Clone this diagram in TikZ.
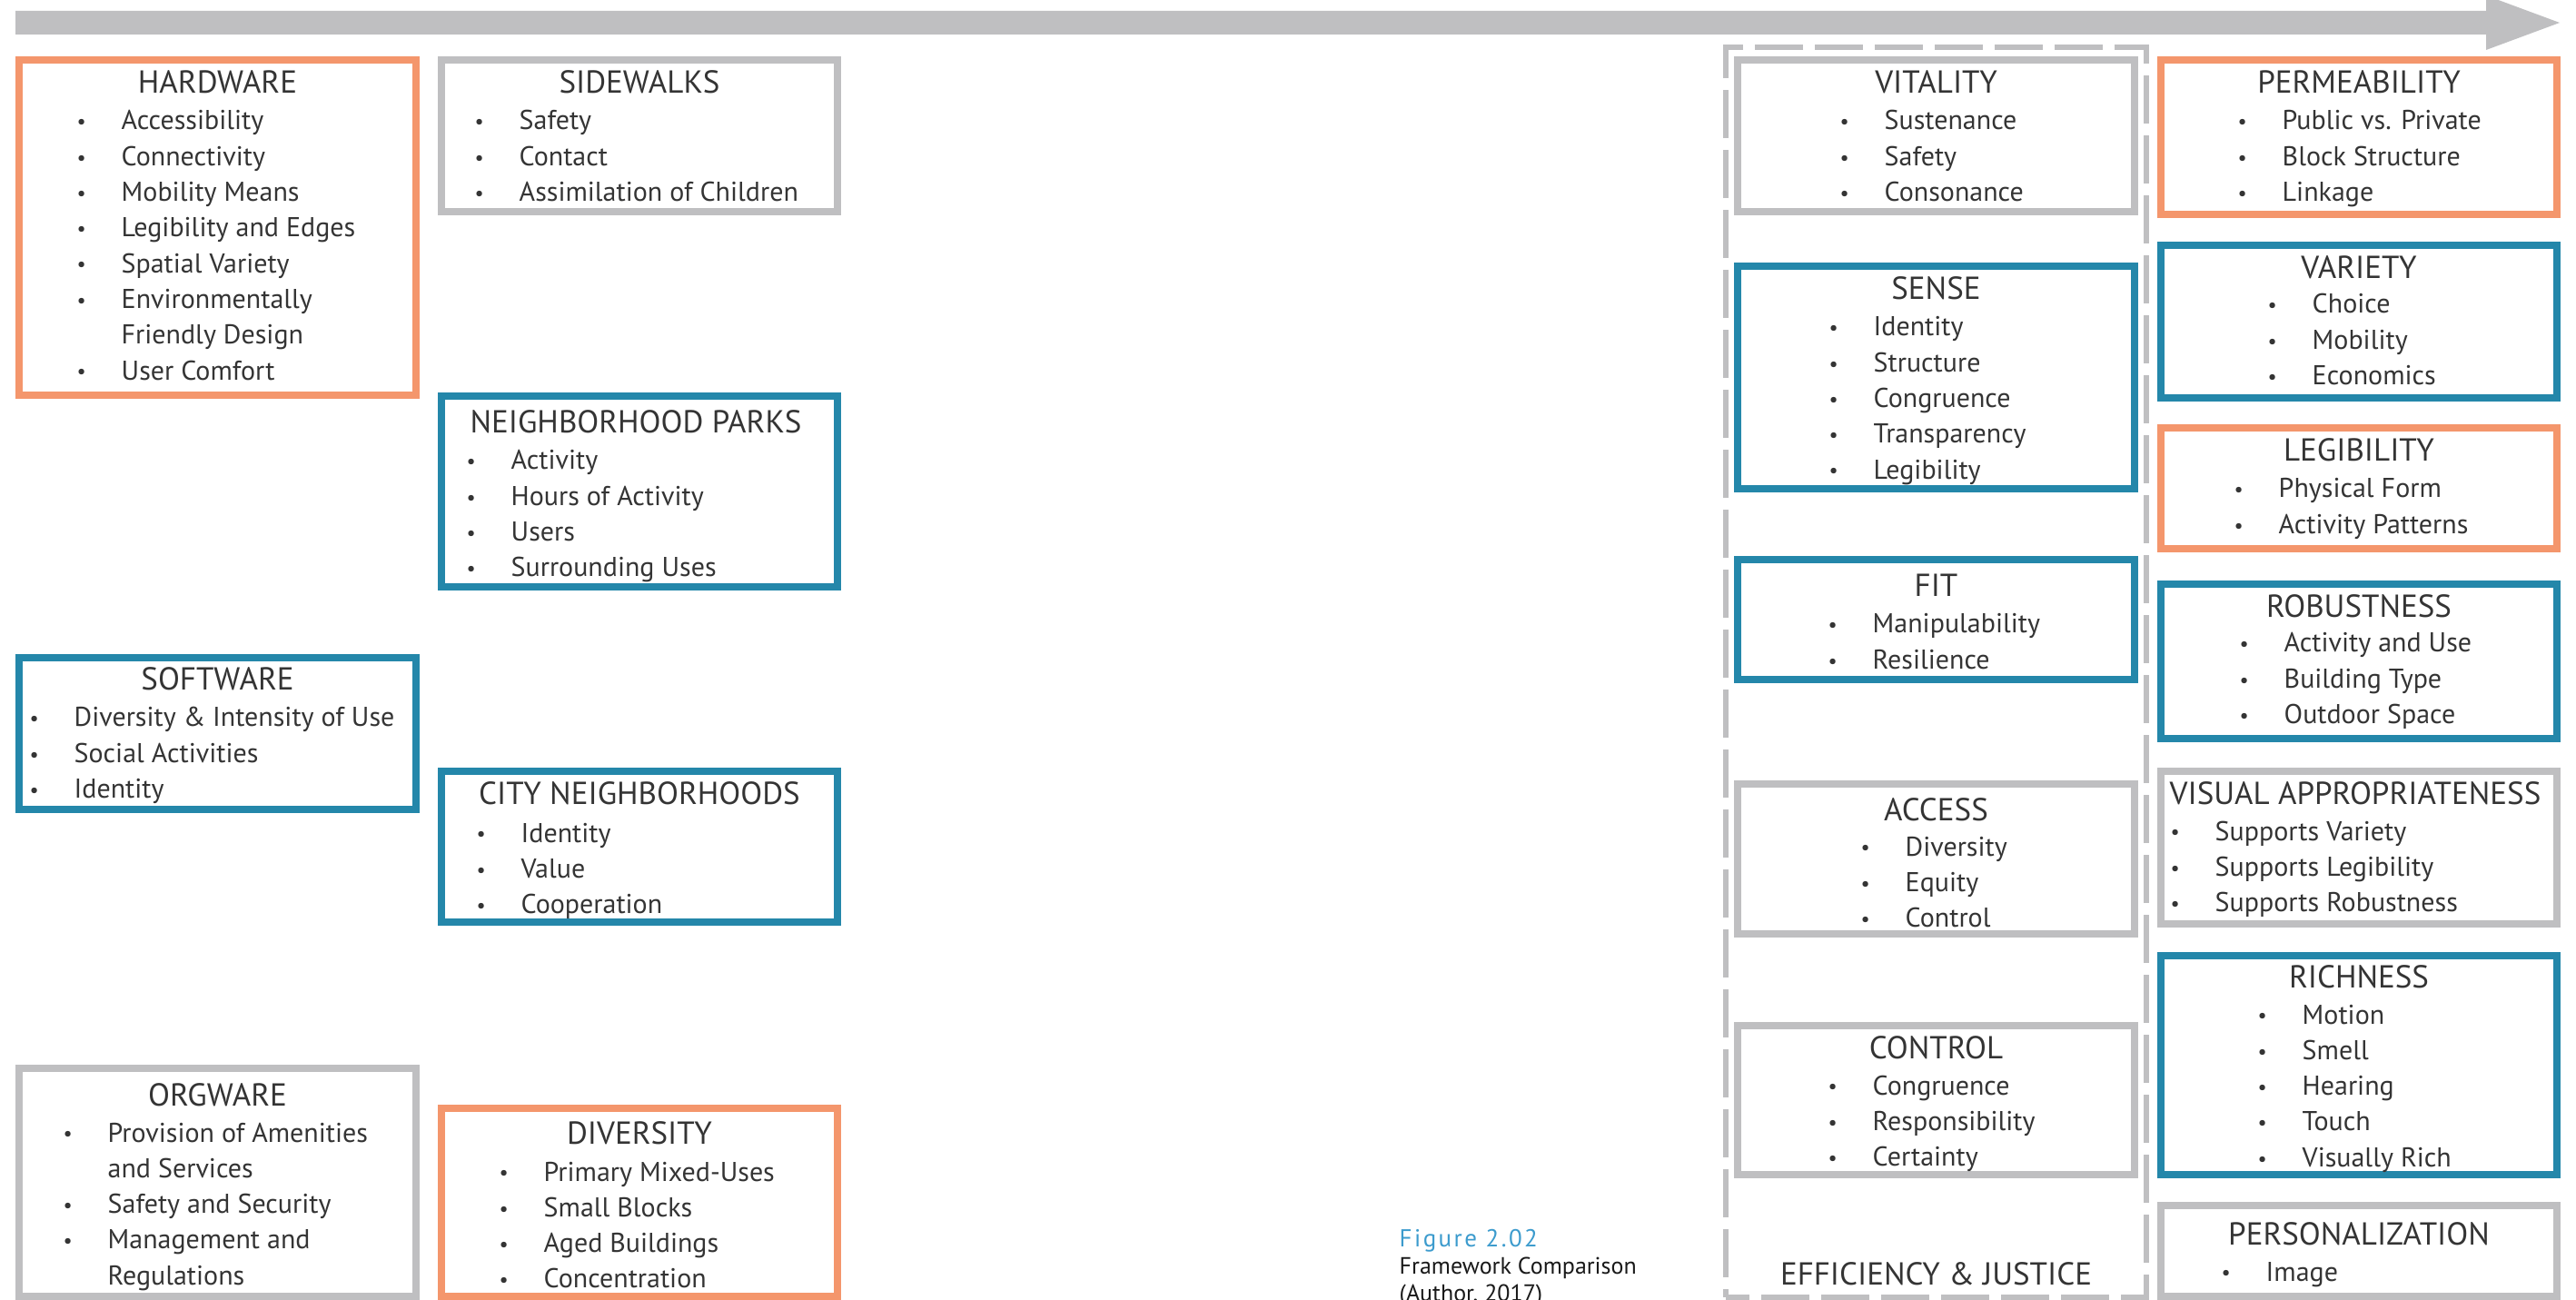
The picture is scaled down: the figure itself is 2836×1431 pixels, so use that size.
\documentclass[tikz,border=0pt]{standalone}
\usepackage{fontspec}
\setmainfont{PT Sans}
\usetikzlibrary{fit}

\newlength{\px}\setlength{\px}{0.01cm}
\definecolor{fworange}{RGB}{244,150,108}
\definecolor{fwblue}{RGB}{36,135,170}
\definecolor{fwgray}{RGB}{191,191,193}
\definecolor{fwtext}{RGB}{52,52,52}
\definecolor{figblue}{RGB}{60,155,205}
\definecolor{captext}{RGB}{25,25,25}

% list helpers
\newcommand{\itm}[1]{\hbox{\llap{\raisebox{0.04em}{\scalebox{0.75}{\textbullet}}\hspace{39\px}}#1}}
\newcommand{\cnt}[1]{\hbox{#1}}
\newcommand{\items}[1]{\vtop{#1}}

\begin{document}
\begin{tikzpicture}[x=0.01cm,y=-0.01cm]
	\tikzstyle{fwbox}=[draw,line width=8\px,inner sep=0pt]
	\tikzstyle{ttl}=[anchor=base,inner sep=0pt,text=fwtext,font=\fontsize{35\px}{40\px}\selectfont]
	\tikzstyle{lst}=[anchor=base west,inner sep=0pt,text=fwtext,font=\fontsize{30\px}{39.3\px}\selectfont]
	\useasboundingbox (0,0) rectangle (2836,1431);

	% timeline arrow
	\fill[fwgray] (17,12) -- (2737,12) -- (2737,-5) -- (2818,25) -- (2737,55) -- (2737,38) -- (17,38) -- cycle;

	% first framework
	\node[fwbox,draw=fworange,fit={(21,66)(458,435)}] (hardware) {};
	\node[ttl] (hardware-t) at (239.5,103) {HARDWARE};
	\node[lst] (hardware-l) at (133,143) {\items{\itm{Accessibility}\itm{Connectivity}\itm{Mobility Means}\itm{Legibility and Edges}\itm{Spatial Variety}\itm{Environmentally}\cnt{Friendly Design}\itm{User Comfort}}};

	\node[fwbox,draw=fwblue,fit={(21,724)(458,891)}] (software) {};
	\node[ttl] (software-t) at (239.5,760) {SOFTWARE};
	\node[lst] (software-l) at (81,800) {\items{\itm{Diversity \& Intensity of Use}\itm{Social Activities}\itm{Identity}}};

	\node[fwbox,draw=fwgray,fit={(21,1176)(458,1427)}] (orgware) {};
	\node[ttl] (orgware-t) at (239.5,1217) {ORGWARE};
	\node[lst] (orgware-l) at (118,1257) {\items{\itm{Provision of Amenities}\cnt{and Services}\itm{Safety and Security}\itm{Management and}\cnt{Regulations}}};

	% second framework
	\node[fwbox,draw=fwgray,fit={(486,66)(922,233)}] (sidewalks) {};
	\node[ttl] (sidewalks-t) at (704,103) {SIDEWALKS};
	\node[lst] (sidewalks-l) at (571,143) {\items{\itm{Safety}\itm{Contact}\itm{Assimilation of Children}}};

	\node[fwbox,draw=fwblue,fit={(486,436)(922,646)}] (parks) {};
	\node[ttl] (parks-t) at (700,477) {NEIGHBORHOOD PARKS};
	\node[lst] (parks-l) at (562,517) {\items{\itm{Activity}\itm{Hours of Activity}\itm{Users}\itm{Surrounding Uses}}};

	\node[fwbox,draw=fwblue,fit={(486,849)(922,1015)}] (city) {};
	\node[ttl] (city-t) at (704,885) {CITY NEIGHBORHOODS};
	\node[lst] (city-l) at (573,927) {\items{\itm{Identity}\itm{Value}\itm{Cooperation}}};

	\node[fwbox,draw=fworange,fit={(486,1220)(922,1427)}] (diversity) {};
	\node[ttl] (diversity-t) at (704,1259) {DIVERSITY};
	\node[lst] (diversity-l) at (598,1300) {\items{\itm{Primary Mixed-Uses}\itm{Small Blocks}\itm{Aged Buildings}\itm{Concentration}}};

	% caption
	\node[anchor=base west,inner sep=0pt,text=figblue,font=\fontsize{27\px}{30\px}\selectfont\addfontfeature{LetterSpace=9}] (fig) at (1540,1372) {Figure 2.02};
	\node[anchor=base west,inner sep=0pt,text=captext,font=\fontsize{26\px}{30\px}\selectfont] (fig-c) at (1540,1402) {\vtop{\hbox{Framework Comparison}\hbox{(Author, 2017)}}};

	% third framework
	\node[draw=fwgray,line width=6.5\px,dash pattern=on 53\px off 13\px,dash phase=27\px,inner sep=0pt,fit={(1900,52)(2363,1428)}] (ej) {};
	\node[ttl] (ej-t) at (2131.5,1414) {EFFICIENCY \& JUSTICE};

	\node[fwbox,draw=fwgray,fit={(1913,66)(2350,233)}] (vitality) {};
	\node[ttl] (vitality-t) at (2131.5,103) {VITALITY};
	\node[lst] (vitality-l) at (2074,143) {\items{\itm{Sustenance}\itm{Safety}\itm{Consonance}}};

	\node[fwbox,draw=fwblue,fit={(1913,293)(2350,538)}] (sense) {};
	\node[ttl] (sense-t) at (2131.5,330) {SENSE};
	\node[lst] (sense-l) at (2062,370) {\items{\itm{Identity}\itm{Structure}\itm{Congruence}\itm{Transparency}\itm{Legibility}}};

	\node[fwbox,draw=fwblue,fit={(1913,616)(2350,748)}] (fitbox) {};
	\node[ttl] (fitbox-t) at (2131.5,657) {FIT};
	\node[lst] (fitbox-l) at (2061,697) {\items{\itm{Manipulability}\itm{Resilience}}};

	\node[fwbox,draw=fwgray,fit={(1913,863)(2350,1028)}] (access) {};
	\node[ttl] (access-t) at (2131.5,903) {ACCESS};
	\node[lst] (access-l) at (2097,942) {\items{\itm{Diversity}\itm{Equity}\itm{Control}}};

	\node[fwbox,draw=fwgray,fit={(1913,1129)(2350,1293)}] (control) {};
	\node[ttl] (control-t) at (2131.5,1165) {CONTROL};
	\node[lst] (control-l) at (2061,1205) {\items{\itm{Congruence}\itm{Responsibility}\itm{Certainty}}};

	% fourth framework
	\node[fwbox,draw=fworange,fit={(2379,66)(2815,236)}] (permeability) {};
	\node[ttl] (permeability-t) at (2597,103) {PERMEABILITY};
	\node[lst] (permeability-l) at (2512,143) {\items{\itm{Public vs. Private}\itm{Block Structure}\itm{Linkage}}};

	\node[fwbox,draw=fwblue,fit={(2379,270)(2815,438)}] (variety) {};
	\node[ttl] (variety-t) at (2597,307) {VARIETY};
	\node[lst] (variety-l) at (2545,345) {\items{\itm{Choice}\itm{Mobility}\itm{Economics}}};

	\node[fwbox,draw=fworange,fit={(2379,471)(2815,604)}] (legibility) {};
	\node[ttl] (legibility-t) at (2597,508) {LEGIBILITY};
	\node[lst] (legibility-l) at (2508,548) {\items{\itm{Physical Form}\itm{Activity Patterns}}};

	\node[fwbox,draw=fwblue,fit={(2379,643)(2815,813)}] (robustness) {};
	\node[ttl] (robustness-t) at (2597,680) {ROBUSTNESS};
	\node[lst] (robustness-l) at (2514,718) {\items{\itm{Activity and Use}\itm{Building Type}\itm{Outdoor Space}}};

	\node[fwbox,draw=fwgray,fit={(2379,849)(2815,1017)}] (visual) {};
	\node[ttl] (visual-t) at (2593,885) {VISUAL APPROPRIATENESS};
	\node[lst] (visual-l) at (2438,925) {\items{\itm{Supports Variety}\itm{Supports Legibility}\itm{Supports Robustness}}};

	\node[fwbox,draw=fwblue,fit={(2379,1052)(2815,1293)}] (richness) {};
	\node[ttl] (richness-t) at (2597,1087) {RICHNESS};
	\node[lst] (richness-l) at (2534,1127) {\items{\itm{Motion}\itm{Smell}\itm{Hearing}\itm{Touch}\itm{Visually Rich}}};

	\node[fwbox,draw=fwgray,fit={(2379,1327)(2815,1427)}] (personalization) {};
	\node[ttl] (personalization-t) at (2597,1370) {PERSONALIZATION};
	\node[lst] (personalization-l) at (2494,1410) {\items{\itm{Image}}};
\end{tikzpicture}
\end{document}
